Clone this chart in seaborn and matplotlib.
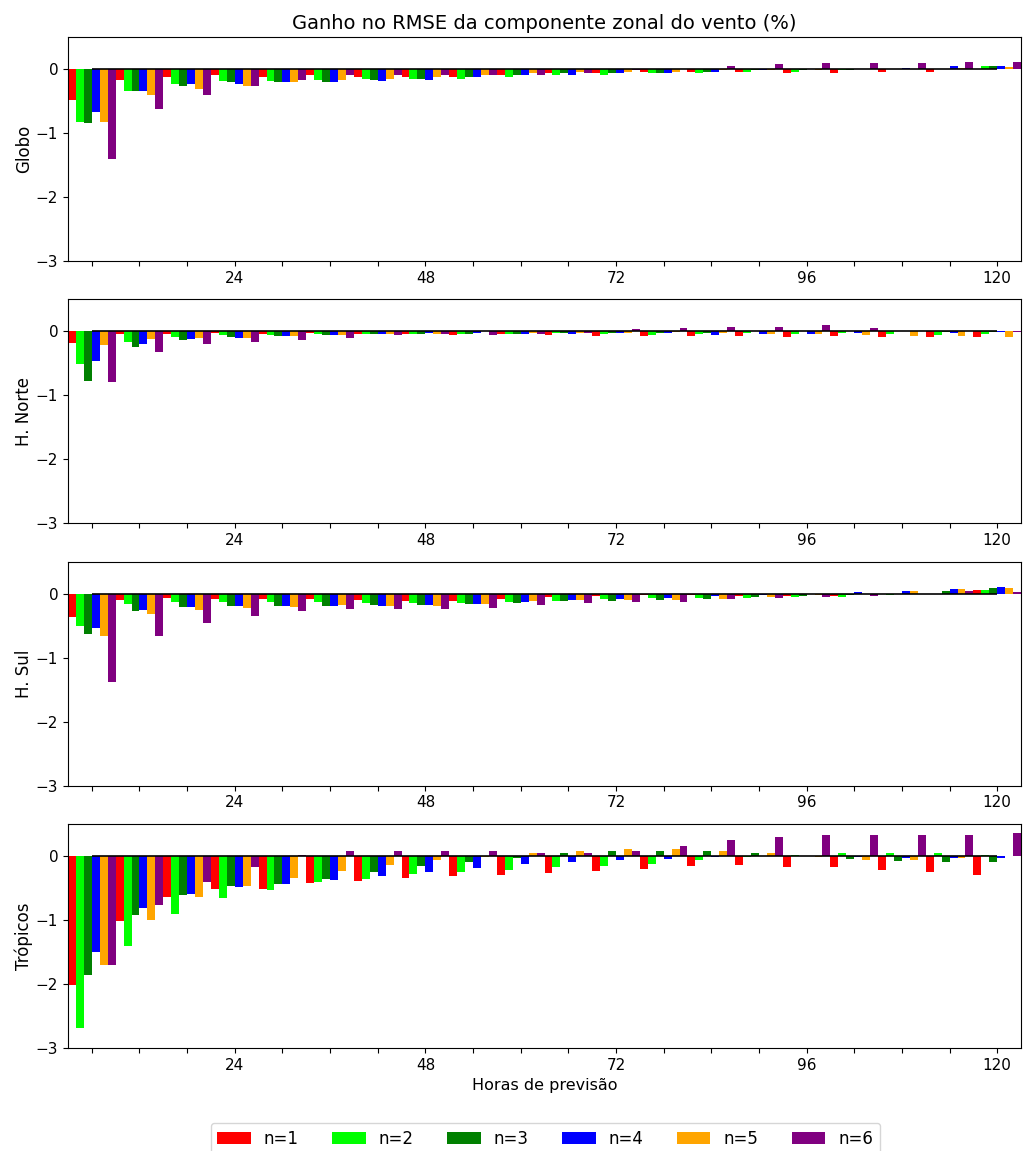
import numpy as np
import pandas as pd
import matplotlib
matplotlib.use("Agg")
import matplotlib.pyplot as plt
import seaborn as sns

# Horas de previsão e membros
horas = [6, 12, 18, 24, 30, 36, 42, 48, 54, 60, 66, 72, 78, 84, 90, 96, 102, 108, 114, 120]
membros = ["n=1", "n=2", "n=3", "n=4", "n=5", "n=6"]
cores = ["red", "lime", "green", "blue", "orange", "purple"]
regioes = ["Globo", "H. Norte", "H. Sul", "Trópicos"]

# Ganho (%) por hora; cada linha = n=1..n=6
globo = [
    [-0.49, -0.83, -0.85, -0.67, -0.83, -1.41],
    [-0.17, -0.34, -0.35, -0.34, -0.41, -0.63],
    [-0.12, -0.23, -0.26, -0.24, -0.31, -0.40],
    [-0.10, -0.18, -0.21, -0.23, -0.26, -0.26],
    [-0.12, -0.18, -0.21, -0.21, -0.21, -0.17],
    [-0.10, -0.17, -0.20, -0.20, -0.17, -0.10],
    [-0.12, -0.15, -0.17, -0.18, -0.15, -0.10],
    [-0.12, -0.15, -0.15, -0.17, -0.13, -0.09],
    [-0.12, -0.15, -0.13, -0.13, -0.10, -0.09],
    [-0.10, -0.13, -0.10, -0.10, -0.07, -0.09],
    [-0.07, -0.10, -0.07, -0.09, -0.04, -0.07],
    [-0.06, -0.09, -0.07, -0.07, -0.04, -0.02],
    [-0.04, -0.07, -0.06, -0.06, -0.04, 0.00],
    [-0.04, -0.06, -0.04, -0.04, -0.02, 0.05],
    [-0.04, -0.04, -0.02, -0.02, -0.02, 0.08],
    [-0.06, -0.04, -0.02, 0.00, -0.02, 0.10],
    [-0.06, -0.02, -0.02, 0.00, 0.00, 0.10],
    [-0.04, 0.00, 0.00, 0.02, 0.00, 0.10],
    [-0.04, 0.00, 0.00, 0.04, 0.02, 0.11],
    [0.00, 0.04, 0.04, 0.05, 0.03, 0.11],
]
hnorte = [
    [-0.19, -0.51, -0.77, -0.47, -0.22, -0.80],
    [-0.05, -0.16, -0.25, -0.20, -0.12, -0.33],
    [-0.05, -0.09, -0.14, -0.12, -0.11, -0.20],
    [-0.03, -0.06, -0.09, -0.11, -0.11, -0.17],
    [-0.05, -0.06, -0.08, -0.08, -0.08, -0.14],
    [-0.03, -0.05, -0.06, -0.06, -0.06, -0.11],
    [-0.05, -0.05, -0.05, -0.05, -0.05, -0.06],
    [-0.05, -0.05, -0.05, -0.03, -0.05, -0.05],
    [-0.06, -0.05, -0.05, -0.03, 0.00, -0.06],
    [-0.05, -0.05, -0.05, -0.05, -0.03, -0.05],
    [-0.06, -0.03, -0.03, -0.05, -0.02, -0.02],
    [-0.08, -0.05, -0.03, -0.03, -0.03, 0.03],
    [-0.08, -0.06, -0.03, -0.03, -0.01, 0.05],
    [-0.08, -0.05, -0.03, -0.06, -0.03, 0.06],
    [-0.08, -0.03, 0.01, -0.05, -0.05, 0.06],
    [-0.09, -0.05, 0.01, -0.05, -0.05, 0.09],
    [-0.08, -0.03, 0.01, -0.03, -0.06, 0.05],
    [-0.09, -0.05, 0.01, 0.01, -0.08, 0.01],
    [-0.09, -0.06, -0.01, -0.03, -0.08, 0.01],
    [-0.09, -0.05, -0.01, -0.01, -0.09, -0.01],
]
hsul = [
    [-0.37, -0.51, -0.63, -0.54, -0.66, -1.38],
    [-0.10, -0.17, -0.27, -0.26, -0.32, -0.66],
    [-0.07, -0.13, -0.21, -0.21, -0.26, -0.46],
    [-0.09, -0.13, -0.20, -0.20, -0.23, -0.35],
    [-0.09, -0.13, -0.20, -0.20, -0.21, -0.27],
    [-0.09, -0.13, -0.20, -0.20, -0.18, -0.24],
    [-0.10, -0.15, -0.18, -0.20, -0.20, -0.24],
    [-0.12, -0.15, -0.18, -0.18, -0.20, -0.24],
    [-0.12, -0.15, -0.17, -0.17, -0.17, -0.23],
    [-0.09, -0.13, -0.15, -0.13, -0.12, -0.18],
    [-0.06, -0.12, -0.12, -0.10, -0.10, -0.15],
    [-0.04, -0.09, -0.12, -0.09, -0.10, -0.13],
    [-0.03, -0.07, -0.10, -0.07, -0.10, -0.13],
    [-0.02, -0.07, -0.09, -0.04, -0.09, -0.09],
    [-0.04, -0.07, -0.06, -0.02, -0.06, -0.07],
    [-0.04, -0.06, -0.04, 0.00, -0.02, -0.06],
    [-0.04, -0.06, -0.02, 0.02, 0.00, -0.04],
    [0.00, -0.02, 0.00, 0.04, 0.04, 0.00],
    [0.00, 0.00, 0.04, 0.07, 0.07, 0.04],
    [0.05, 0.05, 0.08, 0.11, 0.08, 0.03],
]
tropicos = [
    [-2.01, -2.69, -1.86, -1.50, -1.71, -1.71],
    [-1.02, -1.40, -0.92, -0.81, -1.00, -0.77],
    [-0.64, -0.91, -0.61, -0.59, -0.64, -0.41],
    [-0.52, -0.66, -0.47, -0.49, -0.47, -0.18],
    [-0.52, -0.53, -0.44, -0.44, -0.35, 0.01],
    [-0.42, -0.41, -0.36, -0.38, -0.24, 0.07],
    [-0.39, -0.36, -0.25, -0.32, -0.15, 0.08],
    [-0.35, -0.28, -0.16, -0.25, -0.07, 0.08],
    [-0.32, -0.25, -0.10, -0.19, -0.02, 0.07],
    [-0.30, -0.22, -0.04, -0.13, 0.04, 0.04],
    [-0.27, -0.18, 0.04, -0.10, 0.08, 0.04],
    [-0.24, -0.16, 0.07, -0.07, 0.11, 0.08],
    [-0.21, -0.13, 0.08, -0.05, 0.10, 0.16],
    [-0.16, -0.07, 0.07, -0.02, 0.08, 0.25],
    [-0.15, -0.02, 0.05, 0.00, 0.04, 0.30],
    [-0.18, 0.02, -0.01, 0.00, -0.02, 0.33],
    [-0.18, 0.05, -0.05, -0.02, -0.07, 0.33],
    [-0.22, 0.05, -0.08, -0.04, -0.07, 0.33],
    [-0.25, 0.05, -0.10, -0.04, -0.04, 0.33],
    [-0.30, 0.02, -0.10, -0.04, -0.01, 0.35],
]

dados = [globo, hnorte, hsul, tropicos]

fig, axes = plt.subplots(4, 1, figsize=(10.27, 11.51), dpi=100)
fig.subplots_adjust(left=0.0662, right=0.9942, top=0.9679, bottom=0.0895, hspace=0.17)

for ax, regiao, valores in zip(axes, regioes, dados):
    df = pd.DataFrame(valores, columns=membros)
    df["hora"] = horas
    df = df.melt(id_vars="hora", var_name="n", value_name="ganho")
    sns.barplot(data=df, x="hora", y="ganho", hue="n", order=horas, hue_order=membros,
                palette=cores, width=1.0, gap=0, errorbar=None, saturation=1,
                linewidth=0, ax=ax)
    ax.hlines(0, 0, len(horas) - 1, color="black", linewidth=1.2, zorder=5)
    ax.set_xlim(-0.5, len(horas) - 0.5)
    ax.set_ylim(-3, 0.5)
    ax.set_yticks([0, -1, -2, -3])
    ax.set_xticks(range(len(horas)))
    ax.set_xticklabels([str(h) if h % 24 == 0 else "" for h in horas])
    ax.tick_params(labelsize=11)
    ax.set_ylabel(regiao, fontsize=12, labelpad=2)
    ax.set_xlabel("")
    handles, labels = ax.get_legend_handles_labels()
    ax.legend_.remove()

axes[0].set_title("Ganho no RMSE da componente zonal do vento (%)", fontsize=14)
axes[-1].set_xlabel("Horas de previsão", fontsize=11.5)

fig.legend(handles, labels, loc="upper center", ncol=6, bbox_to_anchor=(0.531, 0.0243),
           fontsize=12, borderaxespad=0)

plt.savefig("out.png", dpi=100)
